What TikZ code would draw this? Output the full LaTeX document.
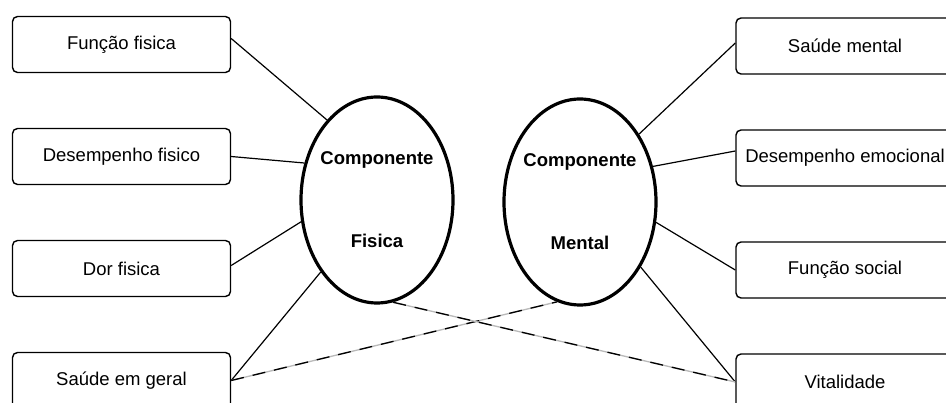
\documentclass[tikz,border=0pt]{standalone}
\usepackage{fontspec}
\setmainfont{Liberation Sans}
\usetikzlibrary{shapes.geometric}

\begin{document}
\begin{tikzpicture}[x=1pt,y=-1pt,node distance=112pt,font=\fontsize{18.5}{22}\selectfont,
    item node/.style={draw,rounded corners=5pt,line width=1.4pt,minimum width=218pt,minimum height=56pt,inner sep=0pt},
    comp node/.style={ellipse,draw,line width=3.2pt,minimum width=152pt,minimum height=206pt,inner sep=0pt,align=center,font=\fontsize{18.5}{22}\selectfont\bfseries},
    cross line/.style={draw=gray!55,line width=1.3pt,postaction={draw=black,dash pattern=on 13pt off 9pt}}]
            \clip (0,0) rectangle (946,403);
            \node[comp node] (cf) at (377,200) {\makebox[0pt]{Componente}\\[61pt]\makebox[0pt]{Fisica}};
            \node[comp node] (cm) at (580,202) {\makebox[0pt]{Componente}\\[61pt]\makebox[0pt]{Mental}};

            \node[item node] (ff) at (121.5,44.5) {Função fisica};
            \node[item node] (df) [below of=ff] {Desempenho fisico};
            \node[item node] (dor) [below of=df] {Dor fisica};
            \node[item node] (sg) [below of=dor] {Saúde em geral};

            \node[item node] (sm) at (845,46) {Saúde mental};
            \node[item node] (de) [below of=sm] {Desempenho emocional};
            \node[item node] (fs) [below of=de] {Função social};
            \node[item node] (vit) [below of=fs] {Vitalidade};

            \path[line width=1.2pt]
                ([yshift=6pt]ff.east) edge (cf.122)
                (df.east) edge (cf.153)
                ([yshift=3pt]dor.east) edge (cf.196)
                (sg.east) edge (cf.232)
                ([yshift=3pt]sm.west) edge (cm.49)
                ([yshift=7pt]de.west) edge (cm.26)
                (fs.west) edge (cm.345)
                (vit.west) edge (cm.313)
             ;
            \path[cross line] (sg.east) -- (cm.257);
            \path[cross line] (cf.279) -- (vit.west);
         \end{tikzpicture}
\end{document}
